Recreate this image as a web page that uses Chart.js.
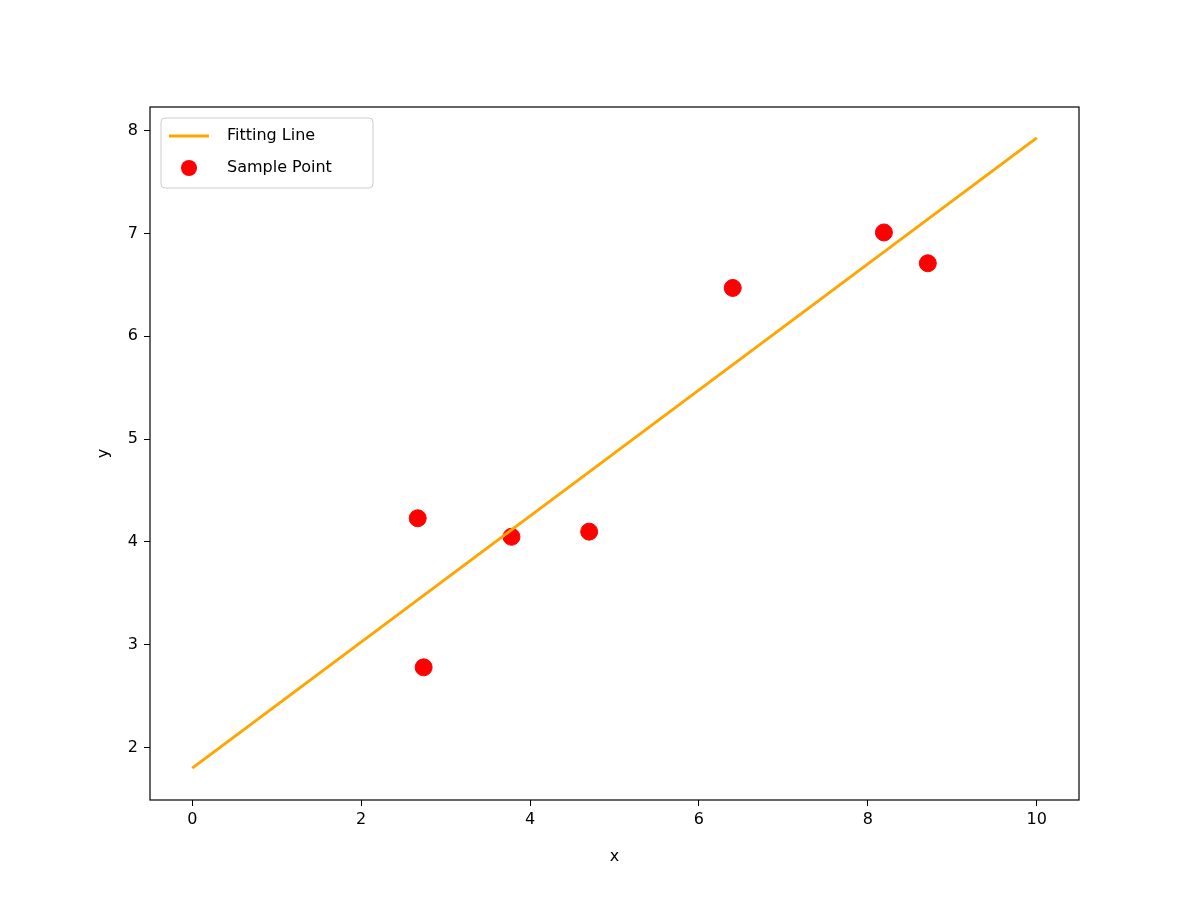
<!DOCTYPE html>
<html>
<head>
<meta charset="utf-8">
<script src="https://cdn.jsdelivr.net/npm/chart.js@4"></script>
<style>
  body { margin: 0; background: #fff; }
  #wrap { width: 1200px; height: 900px; }
</style>
</head>
<body>
<div id="wrap"><canvas id="myChart"></canvas></div>
<script>
const sampleX = [2.67, 2.74, 3.78, 4.70, 6.40, 8.19, 8.71];
const sampleY = [4.23, 2.78, 4.05, 4.10, 6.47, 7.01, 6.71];
const lineX = [0, 10];
const lineY = [1.80, 7.93];
const xTicks = [0, 2, 4, 6, 8, 10];
const yTicks = [2, 3, 4, 5, 6, 7, 8];

const font = { family: 'DejaVu Sans', size: 16 };

// frame + legend drawn inside the plot area
const framePlugin = {
    id: 'frame',
    afterDatasetsDraw(chart) {
        const { ctx, chartArea: a } = chart;
        ctx.save();
        ctx.strokeStyle = '#000';
        ctx.lineWidth = 1.2;
        ctx.strokeRect(a.left, a.top, a.right - a.left, a.bottom - a.top);

        const bx = a.left + 11, by = a.top + 11, bw = 212, bh = 70;
        ctx.fillStyle = 'rgba(255,255,255,0.8)';
        ctx.strokeStyle = '#ccc';
        ctx.lineWidth = 1;
        ctx.beginPath();
        ctx.roundRect(bx, by, bw, bh, 4);
        ctx.fill();
        ctx.stroke();

        const ds = chart.data.datasets;
        ctx.font = '16px "DejaVu Sans"';
        ctx.textBaseline = 'middle';
        ctx.fillStyle = '#000';
        // line entry
        ctx.strokeStyle = ds[0].borderColor;
        ctx.lineWidth = 3;
        ctx.beginPath();
        ctx.moveTo(bx + 8, by + 18);
        ctx.lineTo(bx + 48, by + 18);
        ctx.stroke();
        ctx.fillText(ds[0].label, bx + 66, by + 18);
        // scatter entry
        ctx.fillStyle = ds[1].backgroundColor;
        ctx.beginPath();
        ctx.arc(bx + 28, by + 50, 8, 0, Math.PI * 2);
        ctx.fill();
        ctx.fillStyle = '#000';
        ctx.fillText(ds[1].label, bx + 66, by + 50);
        ctx.restore();
    }
};

const ctx = document.getElementById('myChart').getContext('2d');
new Chart(ctx, {
    type: 'scatter',
    data: {
        datasets: [{
            type: 'line',
            label: 'Fitting Line',
            data: lineX.map((x, i) => ({ x: x, y: lineY[i] })),
            borderColor: '#ffa500',
            borderWidth: 3,
            pointRadius: 0,
            fill: false
        }, {
            label: 'Sample Point',
            data: sampleX.map((x, i) => ({ x: x, y: sampleY[i] })),
            backgroundColor: '#ff0000',
            borderColor: '#ff0000',
            pointRadius: 8.5
        }]
    },
    options: {
        responsive: true,
        maintainAspectRatio: false,
        animation: false,
        layout: { padding: { left: 90, right: 121, top: 107, bottom: 30 } },
        plugins: { legend: { display: false }, tooltip: { enabled: false } },
        scales: {
            x: {
                type: 'linear',
                min: -0.5, max: 10.5,
                afterBuildTicks: s => { s.ticks = xTicks.map(v => ({ value: v })); },
                afterFit: s => { s.height = 70; },
                grid: { drawOnChartArea: false, tickLength: 6, tickColor: '#000' },
                border: { display: false },
                ticks: { color: '#000', font: font, padding: 4, maxRotation: 0 },
                title: { display: true, text: 'x', color: '#000', font: font, padding: { top: 4 } }
            },
            y: {
                type: 'linear',
                min: 1.49, max: 8.23,
                afterBuildTicks: s => { s.ticks = yTicks.map(v => ({ value: v })); },
                afterFit: s => { s.width = 60; },
                grid: { drawOnChartArea: false, tickLength: 6, tickColor: '#000' },
                border: { display: false },
                ticks: { color: '#000', font: font, padding: 6 },
                title: { display: true, text: 'y', color: '#000', font: font, padding: { bottom: 4 } }
            }
        }
    },
    plugins: [framePlugin]
});
</script>
</body>
</html>
